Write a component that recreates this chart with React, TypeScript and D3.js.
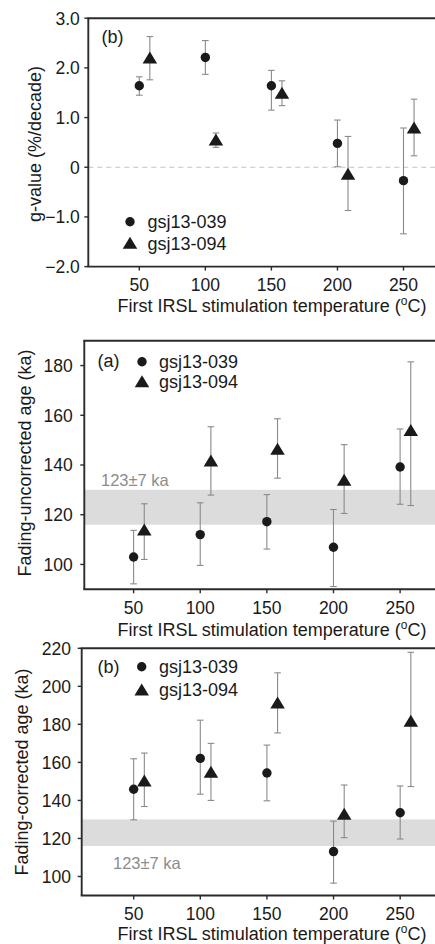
import React from "react";
import * as d3 from "d3";

// ---------- data ----------
const temps = [50, 100, 150, 200, 250];
const triShift = 8; // second sample plotted slightly to the right (°C)

const gVal039 = [1.64, 2.21, 1.64, 0.48, -0.27];
const gLo039 = [1.45, 1.87, 1.15, 0.01, -1.34];
const gHi039 = [1.82, 2.55, 1.95, 0.95, 0.79];
const gVal094 = [2.17, 0.52, 1.46, -0.17, 0.76];
const gLo094 = [1.76, 0.4, 1.24, -0.87, 0.23];
const gHi094 = [2.63, 0.69, 1.74, 0.62, 1.37];

const uncVal039 = [103, 112, 117.2, 106.9, 139.2];
const uncLo039 = [92.2, 99.6, 106.2, 91.1, 124.2];
const uncHi039 = [113.7, 124.8, 128.1, 122.1, 154.5];
const uncVal094 = [113.3, 141, 145.7, 133.3, 153.3];
const uncLo094 = [102, 127.9, 134.7, 120.5, 123.7];
const uncHi094 = [124.4, 155.4, 158.6, 148.2, 181.5];

const corVal039 = [145.9, 162.1, 154.4, 113.1, 133.5];
const corLo039 = [129.8, 143.3, 139.8, 96.5, 119.7];
const corHi039 = [161.9, 182.2, 169.1, 129.1, 147.6];
const corVal094 = [149.4, 154, 190.4, 131.9, 180.8];
const corLo094 = [136.8, 140, 175.5, 120.4, 147.3];
const corHi094 = [164.9, 170, 207.1, 148.1, 217.9];

const refAge = 123;
const refErr = 7;
const refLabel = "123±7 ka";
const sampleNames = ["gsj13-039", "gsj13-094"];

const gTicks = [-2, -1, 0, 1, 2, 3];
const uncTicks = [100, 120, 140, 160, 180];
const corTicks = [100, 120, 140, 160, 180, 200, 220];
const xTicks = [50, 100, 150, 200, 250];

const FONT = "'Liberation Sans', Arial, Helvetica, sans-serif";
const INK = "#1a1a1a";
const AXIS = "#2b2b2b";
const ERR = "#8a8a8a";
const W = 435;

type PanelCfg = {
  left: number;
  top: number;
  bottom: number;
  xMin: number;
  yDomain: [number, number];
  yTicks: number[];
  yFmt: (v: number) => string;
  yTitle: string;
  yTitleX: number;
  yTitleY: number;
  yLabelGap: number;
  xLabelBase: number;
  xTitleBase: number;
};

function Triangle({ x, y }: { x: number; y: number }) {
  const w = 14.5, h = 12;
  const p = d3.path();
  p.moveTo(x, y - (2 * h) / 3);
  p.lineTo(x + w / 2, y + h / 3);
  p.lineTo(x - w / 2, y + h / 3);
  p.closePath();
  return <path d={p.toString()} fill={INK} />;
}

function Series({
  xs, vals, lo, hi, x, y, tri,
}: {
  xs: number[]; vals: number[]; lo: number[]; hi: number[];
  x: d3.ScaleLinear<number, number>; y: d3.ScaleLinear<number, number>; tri: boolean;
}) {
  return (
    <g>
      {xs.map((t, i) => {
        const cx = x(t);
        const y1 = y(hi[i]);
        const y2 = y(lo[i]);
        return (
          <g key={i}>
            <line x1={cx} x2={cx} y1={y1} y2={y2} stroke={ERR} strokeWidth={1.1} />
            <line x1={cx - 3.3} x2={cx + 3.3} y1={y1} y2={y1} stroke={ERR} strokeWidth={1.1} />
            <line x1={cx - 3.3} x2={cx + 3.3} y1={y2} y2={y2} stroke={ERR} strokeWidth={1.1} />
            {tri ? <Triangle x={cx} y={y(vals[i])} /> : <circle cx={cx} cy={y(vals[i])} r={4.7} fill={INK} />}
          </g>
        );
      })}
    </g>
  );
}

function Axes({ cfg, x, y }: { cfg: PanelCfg; x: d3.ScaleLinear<number, number>; y: d3.ScaleLinear<number, number> }) {
  return (
    <g fontFamily={FONT}>
      {/* frame: left, bottom, top (right side lies beyond the page) */}
      <line x1={cfg.left} x2={cfg.left} y1={cfg.top} y2={cfg.bottom} stroke={AXIS} strokeWidth={1.9} />
      <line x1={cfg.left - 1} x2={W} y1={cfg.bottom} y2={cfg.bottom} stroke={AXIS} strokeWidth={1.9} />
      <line x1={cfg.left - 1} x2={W} y1={cfg.top} y2={cfg.top} stroke={AXIS} strokeWidth={1.9} />
      {cfg.yTicks.map((t) => (
        <g key={"y" + t}>
          <line x1={cfg.left - 4} x2={cfg.left} y1={y(t)} y2={y(t)} stroke={AXIS} strokeWidth={1.4} />
          <text x={cfg.left - cfg.yLabelGap} y={y(t)} dy="0.36em" textAnchor="end" fontSize={17.5} fill={INK}>
            {cfg.yFmt(t)}
          </text>
        </g>
      ))}
      {xTicks.map((t) => (
        <g key={"x" + t}>
          <line x1={x(t)} x2={x(t)} y1={cfg.bottom} y2={cfg.bottom + 4} stroke={AXIS} strokeWidth={1.4} />
          <text x={x(t)} y={cfg.xLabelBase} textAnchor="middle" fontSize={17.5} fill={INK}>
            {t}
          </text>
        </g>
      ))}
      <text x={272} y={cfg.xTitleBase} textAnchor="middle" fontSize={18} fill={INK}>
        First IRSL stimulation temperature (
        <tspan fontSize={12} dy={-7}>o</tspan>
        <tspan dy={7}>C)</tspan>
      </text>
      <text
        transform={`translate(${cfg.yTitleX},${cfg.yTitleY}) rotate(-90)`}
        dy="0.35em"
        textAnchor="middle"
        fontSize={18}
        fill={INK}
      >
        {cfg.yTitle}
      </text>
    </g>
  );
}

function Legend({ x, y1, y2, tx }: { x: number; y1: number; y2: number; tx: number }) {
  return (
    <g fontFamily={FONT} fontSize={18} fill={INK}>
      <circle cx={x} cy={y1} r={4.7} fill={INK} />
      <text x={tx} y={y1} dy="0.36em">{sampleNames[0]}</text>
      <Triangle x={x} y={y2 + 1.5} />
      <text x={tx} y={y2} dy="0.36em">{sampleNames[1]}</text>
    </g>
  );
}

export default function App() {
  const shifted = temps.map((t) => t + triShift);

  // Panel 1: g-values
  const c1: PanelCfg = {
    left: 88.3, top: 18.2, bottom: 266.6, xMin: 11.4,
    yDomain: [-2, 3], yTicks: gTicks,
    yFmt: (v) => (v === 0 ? "0" : d3.format(".1f")(v)),
    yTitle: "g-value (%/decade)", yTitleX: 35, yTitleY: 144,
    yLabelGap: 8.5, xLabelBase: 290.8, xTitleBase: 311.5,
  };
  const x1 = d3.scaleLinear().domain([c1.xMin, 280]).range([c1.left, c1.left + (280 - c1.xMin) * 1.321]);
  const y1 = d3.scaleLinear().domain(c1.yDomain).range([c1.bottom, c1.top]);

  // Panel 2: fading-uncorrected
  const c2: PanelCfg = {
    left: 84.3, top: 340.7, bottom: 589.3, xMin: 13,
    yDomain: [90, 190], yTicks: uncTicks,
    yFmt: (v) => String(v),
    yTitle: "Fading-uncorrected age (ka)", yTitleX: 25, yTitleY: 463,
    yLabelGap: 11.5, xLabelBase: 613.5, xTitleBase: 635.5,
  };
  const x2 = d3.scaleLinear().domain([c2.xMin, 280]).range([c2.left, c2.left + (280 - c2.xMin) * 1.3325]);
  const y2 = d3.scaleLinear().domain(c2.yDomain).range([c2.bottom, c2.top]);

  // Panel 3: fading-corrected
  const c3: PanelCfg = {
    left: 81.7, top: 648.3, bottom: 895.5, xMin: 11,
    yDomain: [90, 220], yTicks: corTicks,
    yFmt: (v) => String(v),
    yTitle: "Fading-corrected age (ka)", yTitleX: 21.7, yTitleY: 772,
    yLabelGap: 10.7, xLabelBase: 919.6, xTitleBase: 940,
  };
  const x3 = d3.scaleLinear().domain([c3.xMin, 280]).range([c3.left, c3.left + (280 - c3.xMin) * 1.3325]);
  const y3 = d3.scaleLinear().domain(c3.yDomain).range([c3.bottom, c3.top]);

  return (
    <svg
      width={W}
      height={944}
      style={{ position: "absolute", left: 0, top: 0, background: "#fff", overflow: "hidden" }}
      fontFamily={FONT}
    >
      {/* ---------- Panel 1 ---------- */}
      <line x1={c1.left} x2={W} y1={y1(0)} y2={y1(0)} stroke="#c4c4c4" strokeWidth={1.1} strokeDasharray="5,4" />
      <Axes cfg={c1} x={x1} y={y1} />
      <Series xs={temps} vals={gVal039} lo={gLo039} hi={gHi039} x={x1} y={y1} tri={false} />
      <Series xs={shifted} vals={gVal094} lo={gLo094} hi={gHi094} x={x1} y={y1} tri={true} />
      <text x={101.5} y={36.5} dy="0.36em" fontSize={18} fill={INK}>(b)</text>
      <Legend x={130} y1={221.7} y2={243.3} tx={147.5} />

      {/* ---------- Panel 2 ---------- */}
      <rect x={c2.left} y={y2(refAge + refErr)} width={W - c2.left} height={y2(refAge - refErr) - y2(refAge + refErr)} fill="#dcdcdc" />
      <text x={101} y={480} dy="0.36em" fontSize={16.5} fill="#8c8c8c">{refLabel}</text>
      <Axes cfg={c2} x={x2} y={y2} />
      <Series xs={temps} vals={uncVal039} lo={uncLo039} hi={uncHi039} x={x2} y={y2} tri={false} />
      <Series xs={shifted} vals={uncVal094} lo={uncLo094} hi={uncHi094} x={x2} y={y2} tri={true} />
      <text x={97.5} y={361} dy="0.36em" fontSize={18} fill={INK}>(a)</text>
      <Legend x={142} y1={361.7} y2={381.7} tx={159} />

      {/* ---------- Panel 3 ---------- */}
      <rect x={c3.left} y={y3(refAge + refErr)} width={W - c3.left} height={y3(refAge - refErr) - y3(refAge + refErr)} fill="#dcdcdc" />
      <text x={113} y={863} dy="0.36em" fontSize={16.5} fill="#8c8c8c">{refLabel}</text>
      <Axes cfg={c3} x={x3} y={y3} />
      <Series xs={temps} vals={corVal039} lo={corLo039} hi={corHi039} x={x3} y={y3} tri={false} />
      <Series xs={shifted} vals={corVal094} lo={corLo094} hi={corHi094} x={x3} y={y3} tri={true} />
      <text x={97.5} y={666.7} dy="0.36em" fontSize={18} fill={INK}>(b)</text>
      <Legend x={141.7} y1={666.7} y2={690} tx={159} />
    </svg>
  );
}
